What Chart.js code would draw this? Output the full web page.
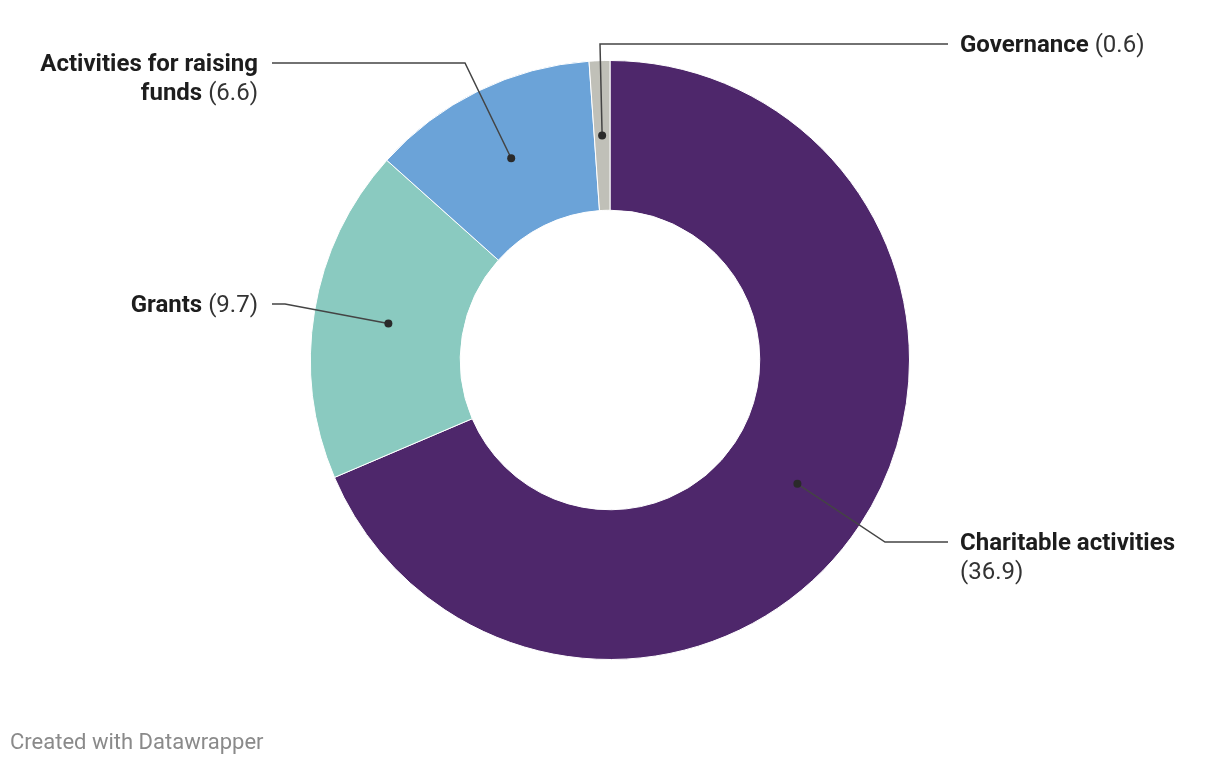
<!DOCTYPE html>
<html>
<head>
<meta charset="utf-8">
<script src="https://cdn.jsdelivr.net/npm/chart.js@4"></script>
<style>
  body { margin: 0; background: #fff; font-family: Roboto, sans-serif; }
  #wrap { position: relative; width: 1220px; height: 766px; }
  #credit { position: absolute; left: 10px; top: 729px; font-size: 22px; color: #8a8a8a; }
</style>
</head>
<body>
<div id="wrap">
  <canvas id="myChart"></canvas>
  <div id="credit">Created with Datawrapper</div>
</div>
<script>
var categories = ['Charitable activities', 'Grants', 'Activities for raising funds', 'Governance'];
var values = [36.9, 9.7, 6.6, 0.6];
var colors = ['#4e276b', '#8acac0', '#6ba3d8', '#c0c0b8'];

// callout layout, relative to the donut centre
var callouts = [
    { elbow: [275, 182], end: 338, textX: 350, align: 'left', lines: [['Charitable activities'], ['', '(36.9)']] },
    { elbow: [-325, -56], end: -338, textX: -352, align: 'right', lines: [['Grants', ' (9.7)']] },
    { elbow: [-145, -297], end: -338, textX: -352, align: 'right', lines: [['Activities for raising'], ['funds', ' (6.6)']] },
    { elbow: [-10, -316], end: 338, textX: 350, align: 'left', lines: [['Governance', ' (0.6)']] }
];

var calloutPlugin = {
    id: 'callouts',
    afterDatasetsDraw: function(chart) {
        var ctx = chart.ctx;
        var arcs = chart.getDatasetMeta(0).data;
        ctx.save();
        arcs.forEach(function(arc, i) {
            var c = callouts[i];
            var p = arc.getProps(['x', 'y', 'startAngle', 'endAngle', 'innerRadius', 'outerRadius'], true);
            var mid = (p.startAngle + p.endAngle) / 2;
            var r = (p.innerRadius + p.outerRadius) / 2;
            var dx = p.x + Math.cos(mid) * r;
            var dy = p.y + Math.sin(mid) * r;
            var ex = p.x + c.elbow[0], ey = p.y + c.elbow[1];

            ctx.strokeStyle = '#444';
            ctx.lineWidth = 1.5;
            ctx.beginPath();
            ctx.moveTo(dx, dy);
            ctx.lineTo(ex, ey);
            ctx.lineTo(p.x + c.end, ey);
            ctx.stroke();

            ctx.fillStyle = '#2a2a2a';
            ctx.beginPath();
            ctx.arc(dx, dy, 4, 0, Math.PI * 2);
            ctx.fill();

            ctx.textBaseline = 'middle';
            ctx.textAlign = 'left';
            c.lines.forEach(function(line, k) {
                var y = ey + 2 + k * 29;
                var bold = '700 24px Roboto';
                var reg = '400 24px Roboto';
                ctx.font = bold;
                var w1 = ctx.measureText(line[0]).width;
                ctx.font = reg;
                var w2 = line[1] ? ctx.measureText(line[1]).width : 0;
                var x = p.x + c.textX;
                if (c.align === 'right') x -= (w1 + w2);
                ctx.fillStyle = '#1d1d1d';
                ctx.font = bold;
                ctx.fillText(line[0], x, y);
                if (line[1]) {
                    ctx.font = reg;
                    ctx.fillStyle = '#333';
                    ctx.fillText(line[1], x + w1, y);
                }
            });
        });
        ctx.restore();
    }
};

var ctx = document.getElementById('myChart').getContext('2d');

var myChart = new Chart(ctx, {
    type: 'doughnut',
    data: {
        labels: categories,
        datasets: [{
            data: values,
            backgroundColor: colors,
            borderColor: '#ffffff',
            borderWidth: 1
        }]
    },
    options: {
        responsive: true,
        maintainAspectRatio: false,
        animation: false,
        cutout: '50%',
        layout: {
            padding: { left: 310, right: 310, top: 60, bottom: 106 }
        },
        plugins: {
            legend: { display: false },
            tooltip: { enabled: false }
        }
    },
    plugins: [calloutPlugin]
});
</script>
</body>
</html>
